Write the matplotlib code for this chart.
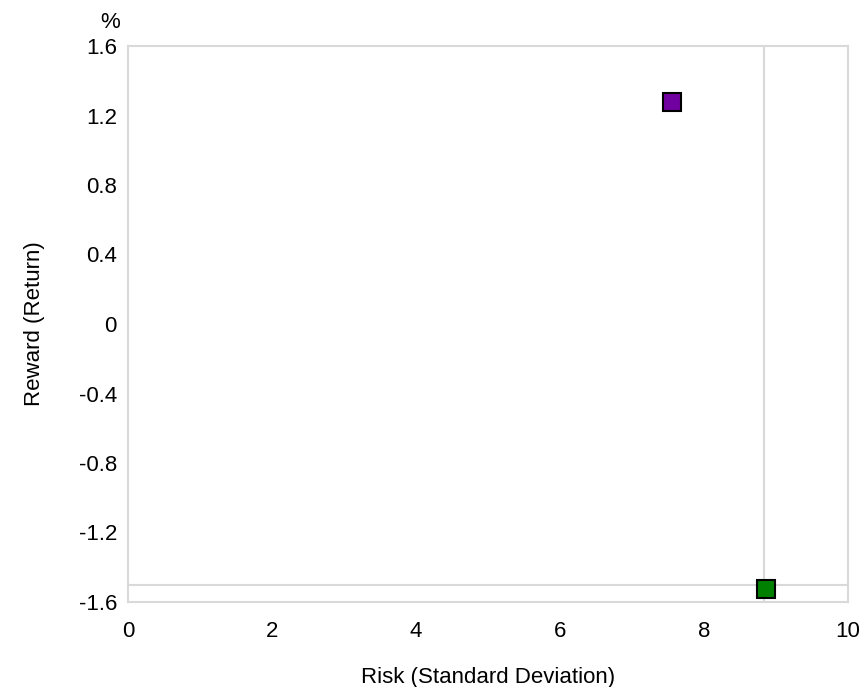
import matplotlib
matplotlib.use('Agg')
import matplotlib.pyplot as plt

plt.rcParams['font.family'] = ['Liberation Sans', 'DejaVu Sans']

# data
risk = [7.56, 8.86]
reward = [1.275, -1.525]
colors = ['#7000a0', '#008000']
cross_x = 8.83   # vertical reference line
cross_y = -1.5   # horizontal reference line

xticks = [0, 2, 4, 6, 8, 10]
yticks = [-1.6, -1.2, -0.8, -0.4, 0, 0.4, 0.8, 1.2, 1.6]
ylabels = ['-1.6', '-1.2', '-0.8', '-0.4', '0', '0.4', '0.8', '1.2', '1.6']

fig = plt.figure(figsize=(8.63, 6.87), dpi=100)
ax = fig.add_axes([128/863, 1-602/687, 720/863, 556/687])

ax.axvline(cross_x, color='#d9d9d9', lw=1.5, zorder=1)
ax.axhline(cross_y, color='#d9d9d9', lw=1.5, zorder=1)

for x, y, c in zip(risk, reward, colors):
    ax.plot(x, y, marker='s', ms=12.5, color=c, mec='black', mew=1.5,
            ls='none', zorder=3, clip_on=False)

ax.set_xlim(0, 10)
ax.set_ylim(-1.6, 1.6)
ax.set_xticks(xticks)
ax.set_yticks(yticks)
ax.set_yticklabels(ylabels)
ax.tick_params(length=0, labelsize=16)
ax.tick_params(axis='y', pad=8)
ax.tick_params(axis='x', pad=14)
for s in ax.spines.values():
    s.set_color('#d9d9d9')
    s.set_linewidth(1.5)

ax.set_xlabel('Risk (Standard Deviation)', fontsize=16)
ax.set_ylabel('Reward (Return)', fontsize=16)
ax.xaxis.set_label_coords(0.5, (602-677)/556)
ax.xaxis.label.set_va('center')
ax.yaxis.set_label_coords((34-128)/720, 0.5)
ax.yaxis.label.set_va('center')
fig.text(120/863, 1-22/687, '%', fontsize=16, ha='right', va='center')

fig.savefig('out.png', dpi=100)
